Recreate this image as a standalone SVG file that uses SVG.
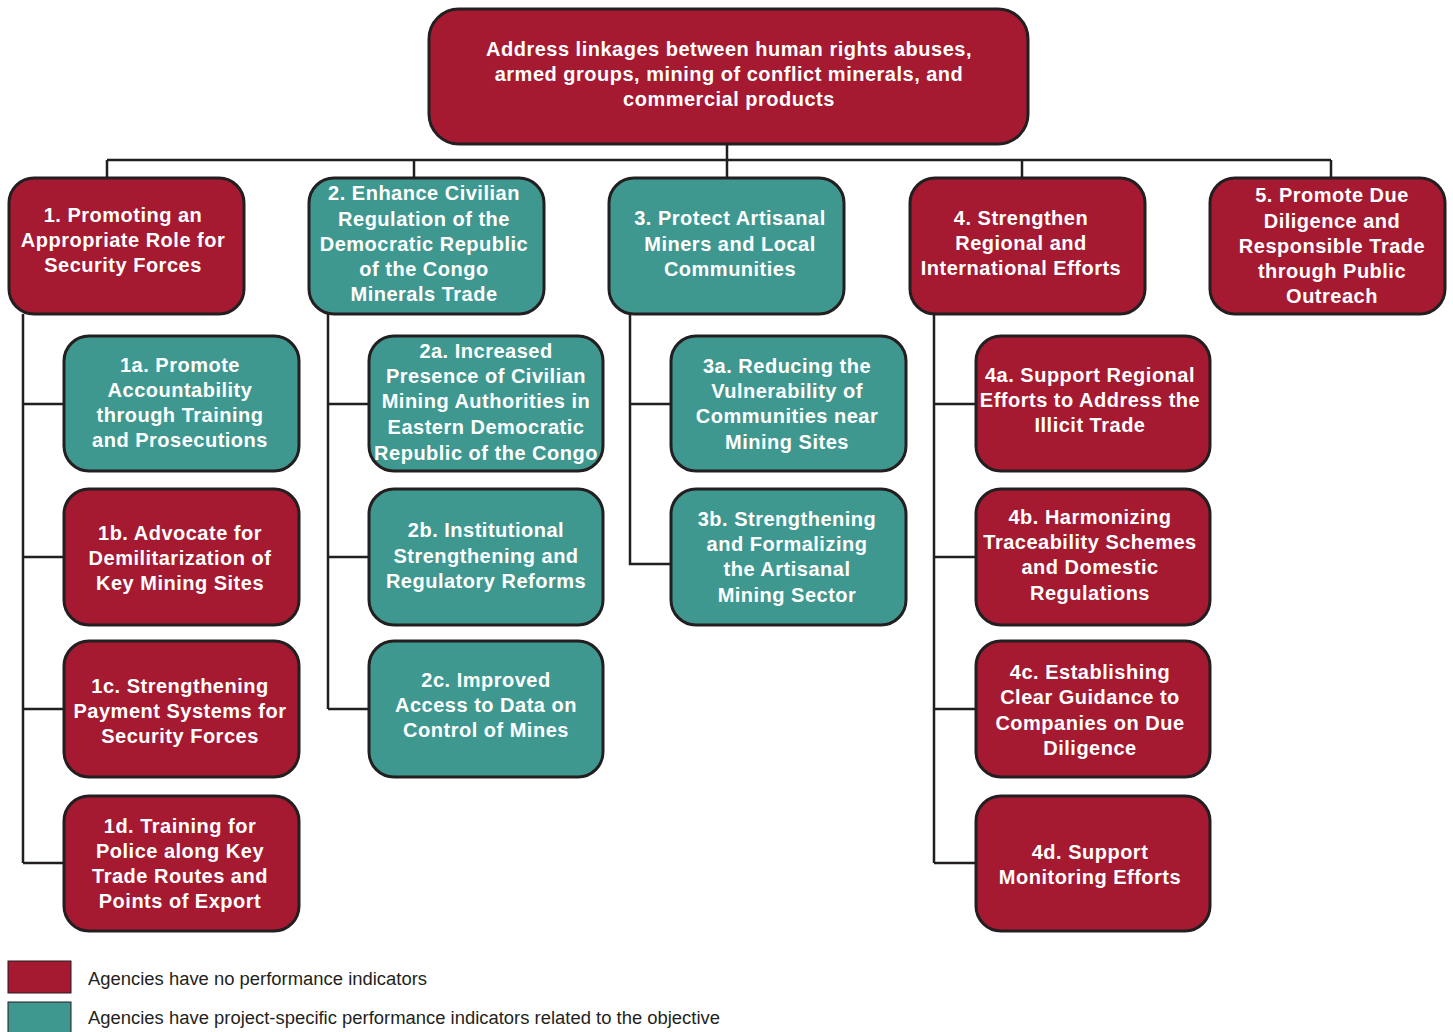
<svg xmlns="http://www.w3.org/2000/svg" width="1453" height="1032" viewBox="0 0 1453 1032">
<style>
.r{fill:#A51931;stroke:#231F20;stroke-width:3}
.g{fill:#3F9890;stroke:#231F20;stroke-width:3}
.t{font-family:"Liberation Sans",Arial,sans-serif;font-weight:bold;font-size:20px;letter-spacing:0.5px;fill:#fff;text-anchor:middle}
.c{fill:none;stroke:#231F20;stroke-width:2.5}
.l{font-family:"Liberation Sans",Arial,sans-serif;font-size:18px;fill:#231F20}
</style>
<rect width="1453" height="1032" fill="#fff"/>
<g id="connectors" class="c">
<path d="M107 160H1331M727 144V178M107 160V178M414 160V178M1022 160V178M1331 160V178"/>
<path d="M23 314V863M23 404H64M23 557H64M23 709H64M23 863H64"/>
<path d="M328 314V709M328 404H369M328 557H369M328 709H369"/>
<path d="M630 314V564H671M630 404H671"/>
<path d="M934 314V863M934 404H976M934 557H976M934 709H976M934 863H976"/>
</g>
<g id="top"><rect class="r" x="429" y="9" width="599" height="135" rx="30"/>
<text class="t" x="729"><tspan x="729" y="56">Address linkages between human rights abuses,</tspan><tspan x="729" y="81">armed groups, mining of conflict minerals, and</tspan><tspan x="729" y="106">commercial products</tspan></text></g>
<g id="n1"><rect class="r" x="9" y="178" width="235" height="136" rx="25"/>
<text class="t"><tspan x="123" y="222">1. Promoting an</tspan><tspan x="123" y="247">Appropriate Role for</tspan><tspan x="123" y="272">Security Forces</tspan></text></g>
<g id="n2"><rect class="g" x="309" y="178" width="235" height="136" rx="25"/>
<text class="t"><tspan x="424" y="200">2. Enhance Civilian</tspan><tspan x="424" y="226">Regulation of the</tspan><tspan x="424" y="251">Democratic Republic</tspan><tspan x="424" y="276">of the Congo</tspan><tspan x="424" y="301">Minerals Trade</tspan></text></g>
<g id="n3"><rect class="g" x="609" y="178" width="235" height="136" rx="25"/>
<text class="t"><tspan x="730" y="225">3. Protect Artisanal</tspan><tspan x="730" y="251">Miners and Local</tspan><tspan x="730" y="276">Communities</tspan></text></g>
<g id="n4"><rect class="r" x="910" y="178" width="235" height="136" rx="25"/>
<text class="t"><tspan x="1021" y="225">4. Strengthen</tspan><tspan x="1021" y="250">Regional and</tspan><tspan x="1021" y="275">International Efforts</tspan></text></g>
<g id="n5"><rect class="r" x="1210" y="178" width="235" height="136" rx="25"/>
<text class="t"><tspan x="1332" y="202">5. Promote Due</tspan><tspan x="1332" y="228">Diligence and</tspan><tspan x="1332" y="253">Responsible Trade</tspan><tspan x="1332" y="278">through Public</tspan><tspan x="1332" y="303">Outreach</tspan></text></g>
<g id="n1a"><rect class="g" x="64" y="336" width="235" height="135" rx="25"/>
<text class="t"><tspan x="180" y="372">1a. Promote</tspan><tspan x="180" y="397">Accountability</tspan><tspan x="180" y="422">through Training</tspan><tspan x="180" y="447">and Prosecutions</tspan></text></g>
<g id="n1b"><rect class="r" x="64" y="489" width="235" height="136" rx="25"/>
<text class="t"><tspan x="180" y="540">1b. Advocate for</tspan><tspan x="180" y="565">Demilitarization of</tspan><tspan x="180" y="590">Key Mining Sites</tspan></text></g>
<g id="n1c"><rect class="r" x="64" y="641" width="235" height="136" rx="25"/>
<text class="t"><tspan x="180" y="693">1c. Strengthening</tspan><tspan x="180" y="718">Payment Systems for</tspan><tspan x="180" y="743">Security Forces</tspan></text></g>
<g id="n1d"><rect class="r" x="64" y="796" width="235" height="135" rx="25"/>
<text class="t"><tspan x="180" y="833">1d. Training for</tspan><tspan x="180" y="858">Police along Key</tspan><tspan x="180" y="883">Trade Routes and</tspan><tspan x="180" y="908">Points of Export</tspan></text></g>
<g id="n2a"><rect class="g" x="369" y="336" width="234" height="135" rx="25"/>
<text class="t"><tspan x="486" y="358">2a. Increased</tspan><tspan x="486" y="383">Presence of Civilian</tspan><tspan x="486" y="408">Mining Authorities in</tspan><tspan x="486" y="434">Eastern Democratic</tspan><tspan x="486" y="460">Republic of the Congo</tspan></text></g>
<g id="n2b"><rect class="g" x="369" y="489" width="234" height="136" rx="25"/>
<text class="t"><tspan x="486" y="537">2b. Institutional</tspan><tspan x="486" y="563">Strengthening and</tspan><tspan x="486" y="588">Regulatory Reforms</tspan></text></g>
<g id="n2c"><rect class="g" x="369" y="641" width="234" height="136" rx="25"/>
<text class="t"><tspan x="486" y="687">2c. Improved</tspan><tspan x="486" y="712">Access to Data on</tspan><tspan x="486" y="737">Control of Mines</tspan></text></g>
<g id="n3a"><rect class="g" x="671" y="336" width="235" height="135" rx="25"/>
<text class="t"><tspan x="787" y="373">3a. Reducing the</tspan><tspan x="787" y="398">Vulnerability of</tspan><tspan x="787" y="423">Communities near</tspan><tspan x="787" y="449">Mining Sites</tspan></text></g>
<g id="n3b"><rect class="g" x="671" y="489" width="235" height="136" rx="25"/>
<text class="t"><tspan x="787" y="526">3b. Strengthening</tspan><tspan x="787" y="551">and Formalizing</tspan><tspan x="787" y="576">the Artisanal</tspan><tspan x="787" y="602">Mining Sector</tspan></text></g>
<g id="n4a"><rect class="r" x="976" y="336" width="234" height="135" rx="25"/>
<text class="t"><tspan x="1090" y="382">4a. Support Regional</tspan><tspan x="1090" y="407">Efforts to Address the</tspan><tspan x="1090" y="432">Illicit Trade</tspan></text></g>
<g id="n4b"><rect class="r" x="976" y="489" width="234" height="136" rx="25"/>
<text class="t"><tspan x="1090" y="524">4b. Harmonizing</tspan><tspan x="1090" y="549">Traceability Schemes</tspan><tspan x="1090" y="574">and Domestic</tspan><tspan x="1090" y="600">Regulations</tspan></text></g>
<g id="n4c"><rect class="r" x="976" y="641" width="234" height="136" rx="25"/>
<text class="t"><tspan x="1090" y="679">4c. Establishing</tspan><tspan x="1090" y="704">Clear Guidance to</tspan><tspan x="1090" y="730">Companies on Due</tspan><tspan x="1090" y="755">Diligence</tspan></text></g>
<g id="n4d"><rect class="r" x="976" y="796" width="234" height="135" rx="25"/>
<text class="t"><tspan x="1090" y="859">4d. Support</tspan><tspan x="1090" y="884">Monitoring Efforts</tspan></text></g>
<g id="legend">
<rect x="8" y="961" width="63" height="32" fill="#A51931" stroke="#231F20" stroke-width="1"/>
<rect x="8" y="1002" width="63" height="32" fill="#3F9890" stroke="#231F20" stroke-width="1"/>
<text class="l" x="88" y="985" textLength="339" lengthAdjust="spacingAndGlyphs">Agencies have no performance indicators</text>
<text class="l" x="88" y="1024" textLength="632" lengthAdjust="spacingAndGlyphs">Agencies have project-specific performance indicators related to the objective</text>
</g>
</svg>
